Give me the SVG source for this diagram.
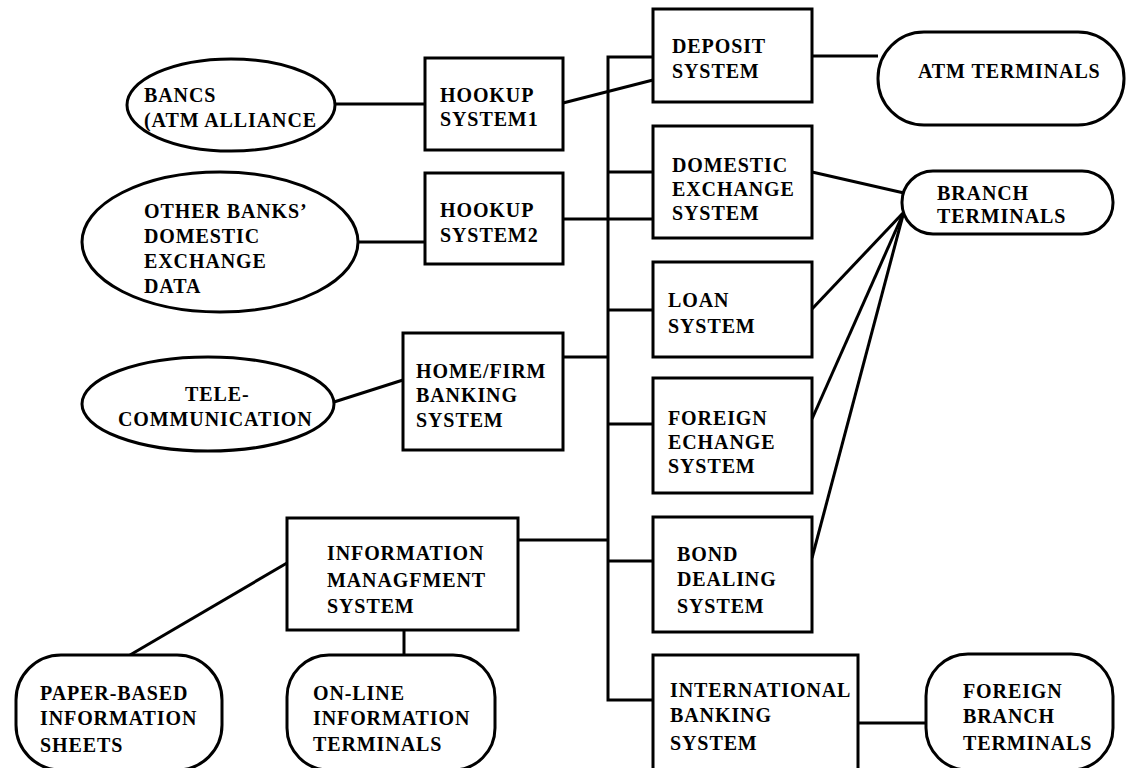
<svg xmlns="http://www.w3.org/2000/svg" width="1126" height="768" viewBox="0 0 1126 768">
  <style>
    .shape { fill: #fff; stroke: #000; stroke-width: 3; }
    .wire { fill: none; stroke: #000; stroke-width: 3; stroke-linejoin: miter; }
    text { font-family: "Liberation Serif", "Times New Roman", serif; font-size: 20px; font-weight: bold; letter-spacing: 0.9px; fill: #000; }
  </style>
  <rect width="1126" height="768" fill="#fff"/>

  <!-- links between systems -->
  <g id="connectors">
    <line class="wire" x1="335" y1="104" x2="425" y2="104"/>
    <line class="wire" x1="358" y1="242" x2="425" y2="242"/>
    <line class="wire" x1="334" y1="402" x2="403" y2="380"/>
    <line class="wire" x1="563" y1="103" x2="653" y2="80"/>
    <line class="wire" x1="563" y1="219" x2="653" y2="219"/>
    <line class="wire" x1="563" y1="357" x2="608" y2="357"/>
    <line class="wire" x1="518" y1="540" x2="608" y2="540"/>
    <!-- central bus -->
    <path class="wire" d="M653,57 H608 V700 H653"/>
    <line class="wire" x1="608" y1="172" x2="653" y2="172"/>
    <line class="wire" x1="608" y1="310" x2="653" y2="310"/>
    <line class="wire" x1="608" y1="424" x2="653" y2="424"/>
    <line class="wire" x1="608" y1="561" x2="653" y2="561"/>
    <!-- terminals -->
    <line class="wire" x1="812" y1="56" x2="878" y2="56"/>
    <line class="wire" x1="812" y1="172" x2="904" y2="193"/>
    <line class="wire" x1="812" y1="309" x2="903" y2="213"/>
    <line class="wire" x1="812" y1="419" x2="903" y2="214"/>
    <line class="wire" x1="812" y1="558" x2="903" y2="215"/>
    <line class="wire" x1="858" y1="723" x2="926" y2="723"/>
    <line class="wire" x1="287" y1="563" x2="130" y2="655"/>
    <line class="wire" x1="404" y1="630" x2="404" y2="655"/>
  </g>

  <g id="bancs">
    <ellipse class="shape" cx="231" cy="105" rx="104" ry="46"/>
    <text x="144" y="102">BANCS</text>
    <text x="144" y="127">(ATM ALLIANCE</text>
  </g>
  <g id="other-banks">
    <ellipse class="shape" cx="220" cy="242" rx="138" ry="70"/>
    <text x="144" y="218">OTHER BANKS’</text>
    <text x="144" y="243">DOMESTIC</text>
    <text x="144" y="268">EXCHANGE</text>
    <text x="144" y="293">DATA</text>
  </g>
  <g id="telecom">
    <ellipse class="shape" cx="208" cy="404" rx="126" ry="47"/>
    <text x="185" y="401">TELE-</text>
    <text x="118" y="426">COMMUNICATION</text>
  </g>

  <g id="hookup1">
    <rect class="shape" x="425" y="58" width="138" height="92"/>
    <text x="440" y="102">HOOKUP</text>
    <text x="440" y="126">SYSTEM1</text>
  </g>
  <g id="hookup2">
    <rect class="shape" x="425" y="173" width="138" height="91"/>
    <text x="440" y="217">HOOKUP</text>
    <text x="440" y="242">SYSTEM2</text>
  </g>
  <g id="home-firm">
    <rect class="shape" x="403" y="333" width="160" height="117"/>
    <text x="416" y="378">HOME/FIRM</text>
    <text x="416" y="402">BANKING</text>
    <text x="416" y="427">SYSTEM</text>
  </g>
  <g id="info-mgmt">
    <rect class="shape" x="287" y="518" width="231" height="112"/>
    <text x="327" y="560">INFORMATION</text>
    <text x="327" y="587">MANAGFMENT</text>
    <text x="327" y="613">SYSTEM</text>
  </g>

  <g id="deposit">
    <rect class="shape" x="653" y="9" width="159" height="93"/>
    <text x="672" y="53">DEPOSIT</text>
    <text x="672" y="78">SYSTEM</text>
  </g>
  <g id="domestic-exchange">
    <rect class="shape" x="653" y="126" width="159" height="112"/>
    <text x="672" y="172">DOMESTIC</text>
    <text x="672" y="196">EXCHANGE</text>
    <text x="672" y="220">SYSTEM</text>
  </g>
  <g id="loan">
    <rect class="shape" x="653" y="262" width="159" height="95"/>
    <text x="668" y="307">LOAN</text>
    <text x="668" y="333">SYSTEM</text>
  </g>
  <g id="foreign-exchange">
    <rect class="shape" x="653" y="378" width="159" height="115"/>
    <text x="668" y="425">FOREIGN</text>
    <text x="668" y="449">ECHANGE</text>
    <text x="668" y="473">SYSTEM</text>
  </g>
  <g id="bond">
    <rect class="shape" x="653" y="517" width="159" height="115"/>
    <text x="677" y="561">BOND</text>
    <text x="677" y="586">DEALING</text>
    <text x="677" y="613">SYSTEM</text>
  </g>
  <g id="international">
    <rect class="shape" x="653" y="655" width="205" height="130"/>
    <text x="670" y="697">INTERNATIONAL</text>
    <text x="670" y="722">BANKING</text>
    <text x="670" y="750">SYSTEM</text>
  </g>

  <g id="atm-terminals">
    <rect class="shape" x="878" y="32" width="246" height="93" rx="46"/>
    <text x="918" y="78">ATM TERMINALS</text>
  </g>
  <g id="branch-terminals">
    <rect class="shape" x="902" y="171" width="211" height="63" rx="31"/>
    <text x="937" y="200">BRANCH</text>
    <text x="937" y="223">TERMINALS</text>
  </g>
  <g id="foreign-branch">
    <rect class="shape" x="926" y="654" width="187" height="116" rx="42"/>
    <text x="963" y="698">FOREIGN</text>
    <text x="963" y="723">BRANCH</text>
    <text x="963" y="750">TERMINALS</text>
  </g>
  <g id="paper-sheets">
    <rect class="shape" x="16" y="655" width="206" height="115" rx="45"/>
    <text x="40" y="700">PAPER-BASED</text>
    <text x="40" y="725">INFORMATION</text>
    <text x="40" y="752">SHEETS</text>
  </g>
  <g id="online-terminals">
    <rect class="shape" x="287" y="655" width="208" height="115" rx="42"/>
    <text x="313" y="700">ON-LINE</text>
    <text x="313" y="725">INFORMATION</text>
    <text x="313" y="751">TERMINALS</text>
  </g>
</svg>
